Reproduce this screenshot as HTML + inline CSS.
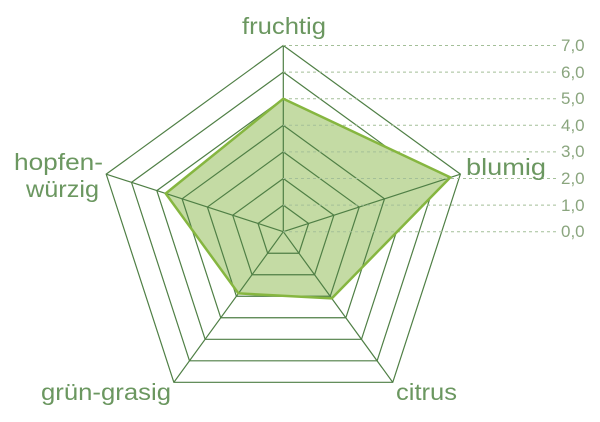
<!DOCTYPE html>
<html><head><meta charset="utf-8"><style>html,body{margin:0;padding:0;background:#fff}svg{display:block}</style></head>
<body>
<svg width="600" height="422" viewBox="0 0 600 422" xmlns="http://www.w3.org/2000/svg" font-family="Liberation Sans, sans-serif">
<g fill="none" stroke="#4f7f45" stroke-width="1.2">
<g transform="translate(283.3,231.7)">
<polygon vector-effect="non-scaling-stroke" transform="scale(186.2)" points="0,-1 0.9511,-0.309 0.5878,0.809 -0.5878,0.809 -0.9511,-0.309"/>
<polygon vector-effect="non-scaling-stroke" transform="scale(159.6)" points="0,-1 0.9511,-0.309 0.5878,0.809 -0.5878,0.809 -0.9511,-0.309"/>
<polygon vector-effect="non-scaling-stroke" transform="scale(133)" points="0,-1 0.9511,-0.309 0.5878,0.809 -0.5878,0.809 -0.9511,-0.309"/>
</g></g>
<polygon fill="#c4dba4" stroke="none" points="283.3,98.7 450.3,177.4 331.8,298.4 238.4,293.4 165.7,193.5"/>
<g fill="none" stroke="#4f7f45" stroke-width="1.2">
<g transform="translate(283.3,231.7)">
<polygon vector-effect="non-scaling-stroke" transform="scale(106.4)" points="0,-1 0.9511,-0.309 0.5878,0.809 -0.5878,0.809 -0.9511,-0.309"/>
<polygon vector-effect="non-scaling-stroke" transform="scale(79.8)" points="0,-1 0.9511,-0.309 0.5878,0.809 -0.5878,0.809 -0.9511,-0.309"/>
<polygon vector-effect="non-scaling-stroke" transform="scale(53.2)" points="0,-1 0.9511,-0.309 0.5878,0.809 -0.5878,0.809 -0.9511,-0.309"/>
<polygon vector-effect="non-scaling-stroke" transform="scale(26.6)" points="0,-1 0.9511,-0.309 0.5878,0.809 -0.5878,0.809 -0.9511,-0.309"/>
<path vector-effect="non-scaling-stroke" transform="scale(186.2)" d="M0,0L0,-1M0,0L0.9511,-0.309M0,0L0.5878,0.809M0,0L-0.5878,0.809M0,0L-0.9511,-0.309"/>
</g></g>
<g stroke="#a3bf98" stroke-width="1" stroke-dasharray="3,3">
<line x1="283" y1="45.5" x2="556" y2="45.5"/>
<line x1="283" y1="72.1" x2="556" y2="72.1"/>
<line x1="283" y1="98.7" x2="556" y2="98.7"/>
<line x1="283" y1="125.3" x2="556" y2="125.3"/>
<line x1="283" y1="151.9" x2="556" y2="151.9"/>
<line x1="283" y1="178.5" x2="556" y2="178.5"/>
<line x1="283" y1="205.1" x2="556" y2="205.1"/>
<line x1="283" y1="231.7" x2="556" y2="231.7"/>
</g>
<polygon fill="none" stroke="#86b640" stroke-width="2.5" stroke-linejoin="round" points="283.3,98.7 450.3,177.4 331.8,298.4 238.4,293.4 165.7,193.5"/>
<g fill="#8aa57e" font-size="17">
<text x="561" y="51">7,0</text>
<text x="561" y="78">6,0</text>
<text x="561" y="104">5,0</text>
<text x="561" y="131">4,0</text>
<text x="561" y="157">3,0</text>
<text x="561" y="184">2,0</text>
<text x="561" y="211">1,0</text>
<text x="561" y="237">0,0</text>
</g>
<g fill="#6b9760" font-size="23">
<text x="242" y="34" textLength="84" lengthAdjust="spacingAndGlyphs">fruchtig</text>
<text x="466" y="175" textLength="80" lengthAdjust="spacingAndGlyphs">blumig</text>
<text x="14" y="170" textLength="89" lengthAdjust="spacingAndGlyphs">hopfen-</text>
<text x="26" y="197" textLength="73" lengthAdjust="spacingAndGlyphs">würzig</text>
<text x="41" y="400" textLength="130" lengthAdjust="spacingAndGlyphs">grün-grasig</text>
<text x="396" y="400" textLength="61" lengthAdjust="spacingAndGlyphs">citrus</text>
</g>
</svg>
</body></html>
